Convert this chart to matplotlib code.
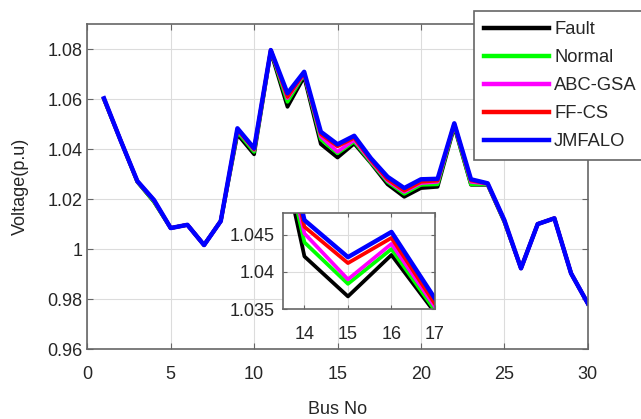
import matplotlib
matplotlib.use("Agg")
import matplotlib.pyplot as plt

plt.rcParams['font.family'] = ['Liberation Sans', 'DejaVu Sans']

bus = list(range(1, 31))
fault = [1.060, 1.0435, 1.027, 1.019, 1.0085, 1.0098, 1.0017, 1.0113, 1.046, 1.038,
         1.079, 1.057, 1.069, 1.0421, 1.0367, 1.0423, 1.0345, 1.026, 1.021, 1.0245,
         1.025, 1.049, 1.0258, 1.0258, 1.011, 0.9924, 1.0101, 1.0124, 0.9904, 0.9784]
normal = [1.060, 1.0435, 1.027, 1.019, 1.0085, 1.0098, 1.0017, 1.0113, 1.047, 1.039,
          1.0795, 1.059, 1.070, 1.0440, 1.0384, 1.0431, 1.0348, 1.027, 1.0222, 1.0258,
          1.026, 1.0495, 1.026, 1.026, 1.0112, 0.9924, 1.0101, 1.0124, 0.9904, 0.9784]
abc_gsa = [1.0602, 1.0435, 1.0272, 1.0195, 1.0085, 1.0098, 1.0017, 1.0113, 1.0478, 1.0398,
           1.0796, 1.0605, 1.0703, 1.0452, 1.0390, 1.0438, 1.0353, 1.0275, 1.0230, 1.0265,
           1.027, 1.050, 1.027, 1.0262, 1.0115, 0.9924, 1.0101, 1.0124, 0.9904, 0.9784]
ff_cs = [1.0603, 1.0435, 1.0272, 1.0196, 1.0085, 1.0098, 1.0017, 1.0113, 1.048, 1.040,
         1.0797, 1.061, 1.0705, 1.0461, 1.0412, 1.0446, 1.0357, 1.028, 1.0235, 1.027,
         1.0275, 1.0502, 1.0275, 1.0263, 1.0116, 0.9924, 1.0101, 1.0124, 0.9904, 0.9784]
jmfalo = [1.0604, 1.0435, 1.0273, 1.0197, 1.0085, 1.0098, 1.0017, 1.0113, 1.0484, 1.0404,
          1.0797, 1.0624, 1.071, 1.047, 1.042, 1.0454, 1.0364, 1.029, 1.0245, 1.028,
          1.0282, 1.0504, 1.028, 1.0264, 1.0117, 0.9924, 1.0101, 1.0124, 0.9904, 0.9784]

series = [(fault, 'k', 'Fault'), (normal, '#00ff00', 'Normal'),
          (abc_gsa, '#ff00ff', 'ABC-GSA'), (ff_cs, 'r', 'FF-CS'),
          (jmfalo, 'b', 'JMFALO')]

xticks = [0, 5, 10, 15, 20, 25, 30]
yticks = [0.96, 0.98, 1.0, 1.02, 1.04, 1.06, 1.08]
ytick_labels = ['0.96', '0.98', '1', '1.02', '1.04', '1.06', '1.08']
inset_xticks = [14, 15, 16, 17]
inset_yticks = [1.035, 1.04, 1.045]
inset_ytick_labels = ['1.035', '1.04', '1.045']

txt = '#262626'
spine = '#666666'

fig = plt.figure(figsize=(6.41, 4.19), dpi=100)
ax = fig.add_axes([0.1362, 0.1663, 0.7807, 0.7757])
for i, (s, c, l) in enumerate(series):
    ax.plot(bus, s, color=c, lw=3.2 if i == len(series) - 1 else 2.7, label=l)
ax.set_xlim(0, 30)
ax.set_ylim(0.96, 1.09)
ax.set_xticks(xticks)
ax.set_yticks(yticks)
ax.set_yticklabels(ytick_labels)
ax.grid(True, color='#dcdcdc', lw=0.8)
ax.tick_params(direction='in', top=True, right=True, labelsize=13, colors=txt,
               length=4, width=0.8, color=spine)
ax.tick_params(axis='x', pad=12)
for sp in ax.spines.values():
    sp.set_color(spine)
    sp.set_linewidth(1.2)
ax.set_xlabel('Bus No', fontsize=13, color=txt, labelpad=13)
ax.set_ylabel('Voltage(p.u)', fontsize=13, color=txt, labelpad=13)

leg = fig.legend(loc='upper left', bbox_to_anchor=(474 / 641, 1 - 11 / 419),
                 fontsize=13.2, handlelength=3.55, handletextpad=0.27,
                 labelspacing=0.6, borderpad=0.55, fancybox=False,
                 framealpha=1, edgecolor=spine, labelcolor=txt, borderaxespad=0)
leg.get_frame().set_linewidth(1.2)
for h in leg.get_lines():
    h.set_linewidth(3.2)

ins = fig.add_axes([0.441, 0.2625, 0.2376, 0.2298])
for i, (s, c, l) in enumerate(series):
    ins.plot(bus, s, color=c, lw=3.2 if i == len(series) - 1 else 2.7)
ins.set_xlim(13.5, 17)
ins.set_ylim(1.035, 1.048)
ins.set_xticks(inset_xticks)
ins.set_yticks(inset_yticks)
ins.set_yticklabels(inset_ytick_labels)
ins.grid(True, color='#dcdcdc', lw=0.8)
ins.tick_params(direction='in', top=True, right=True, labelsize=13, colors=txt,
                length=3, width=0.8, color=spine, pad=6)
ins.tick_params(axis='x', pad=12)
for sp in ins.spines.values():
    sp.set_color(spine)
    sp.set_linewidth(1.2)

fig.savefig('out.png', dpi=100)
